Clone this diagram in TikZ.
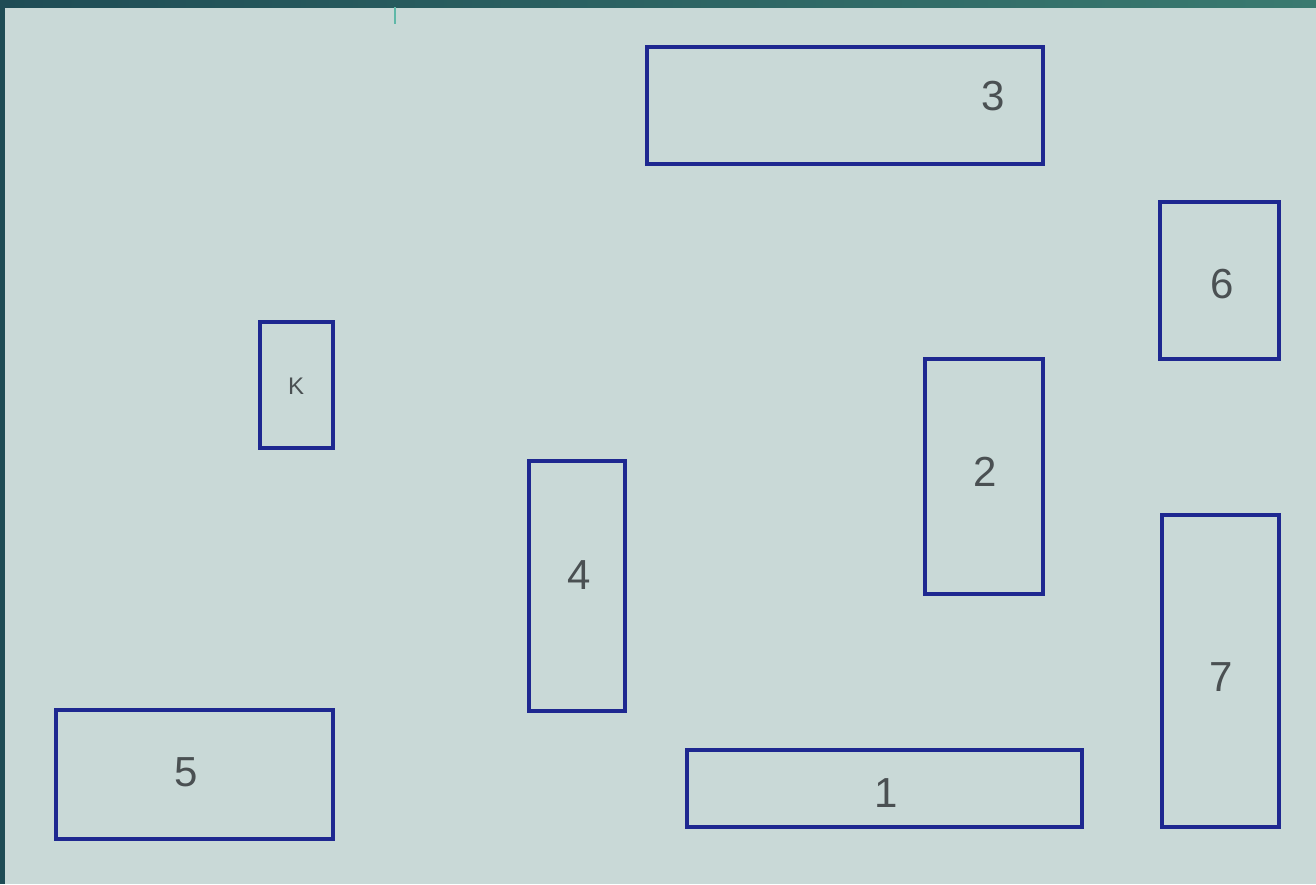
\documentclass[tikz,border=0pt]{standalone}
\usepackage{fontspec}
\setmainfont{Liberation Sans}
\definecolor{bg}{HTML}{C9D9D7}
\definecolor{frameA}{HTML}{1E4C55}
\definecolor{frameB}{HTML}{3A7A70}
\definecolor{boxblue}{HTML}{1E2890}
\definecolor{txt}{HTML}{4A5052}
\definecolor{tick}{HTML}{5FB8A8}
\tikzset{
  box/.style={draw=boxblue, line width=3.4pt, inner sep=0pt},
  lbl/.style={text=txt, font=\fontsize{42}{42}\selectfont, inner sep=0pt},
  smalllbl/.style={text=txt, font=\fontsize{24}{24}\selectfont, inner sep=0pt}
}
\begin{document}
\begin{tikzpicture}[x=1pt,y=-1pt]
\useasboundingbox (0,0) rectangle (1316,884);
\fill[bg] (0,0) rectangle (1316,884);
\shade[left color=frameA, right color=frameB] (0,0) rectangle (1316,7);
\fill[frameA] (0,0) rectangle (5,884);
\draw[tick, line width=1.5pt] (395,7) -- (395,24);
% rectangles: centre, width, height
\node[box, minimum width=396pt, minimum height=117pt] (r3) at (845,105.5) {};
\node[lbl] (t3) at (993,96) {3};
\node[box, minimum width=119pt, minimum height=157pt] (r6) at (1219.5,280.5) {};
\node[lbl] (t6) at (1222,284) {6};
\node[box, minimum width=73pt, minimum height=126pt] (rk) at (296.5,385) {};
\node[smalllbl] (tk) at (296,386) {K};
\node[box, minimum width=118pt, minimum height=235pt] (r2) at (984,476.5) {};
\node[lbl] (t2) at (985,472) {2};
\node[box, minimum width=96pt, minimum height=250pt] (r4) at (577,586) {};
\node[lbl] (t4) at (579,575) {4};
\node[box, minimum width=117pt, minimum height=312pt] (r7) at (1220.5,671) {};
\node[lbl] (t7) at (1221,677) {7};
\node[box, minimum width=277pt, minimum height=129pt] (r5) at (194.5,774.5) {};
\node[lbl] (t5) at (186,772) {5};
\node[box, minimum width=395pt, minimum height=77pt] (r1) at (884.5,788.5) {};
\node[lbl] (t1) at (886,793) {1};
\end{tikzpicture}
\end{document}
